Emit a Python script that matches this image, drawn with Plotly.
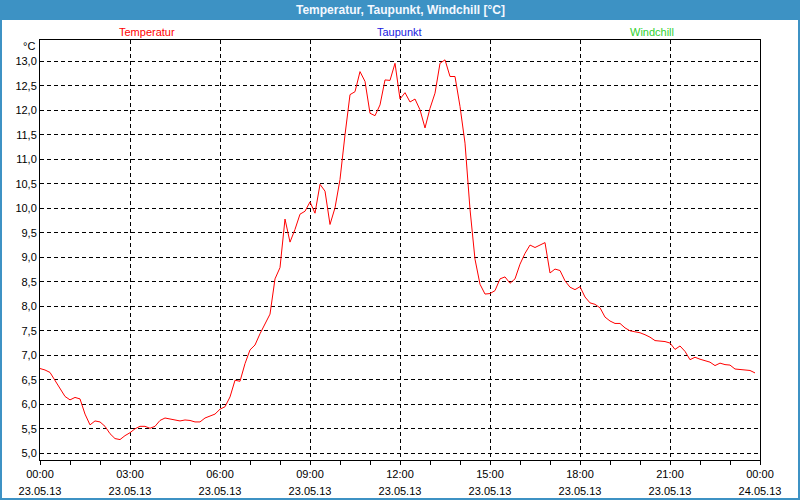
import pandas as pd
import plotly.graph_objects as go

# Temperature readings every 10 minutes, 23.05.13 00:00 - 23:50
temperatur = [
    6.73, 6.70, 6.65, 6.48, 6.32, 6.16, 6.09, 6.14, 6.11, 5.80, 5.58, 5.66,
    5.64, 5.55, 5.40, 5.30, 5.28, 5.36, 5.42, 5.50, 5.55, 5.55, 5.51, 5.55,
    5.67, 5.72, 5.70, 5.68, 5.66, 5.68, 5.67, 5.64, 5.64, 5.72, 5.76, 5.80,
    5.90, 5.95, 6.15, 6.49, 6.47, 6.83, 7.11, 7.21, 7.44, 7.64, 7.84, 8.56,
    8.79, 9.78, 9.31, 9.57, 9.88, 9.94, 10.13, 9.90, 10.49, 10.35, 9.67, 10.01,
    10.59, 11.50, 12.32, 12.38, 12.79, 12.59, 11.94, 11.89, 12.11, 12.62, 12.61, 12.96,
    12.23, 12.36, 12.17, 12.23, 12.01, 11.64, 12.04, 12.35, 12.96, 13.03, 12.69, 12.69,
    12.08, 11.33, 9.98, 8.96, 8.45, 8.25, 8.26, 8.32, 8.56, 8.60, 8.47, 8.56,
    8.86, 9.08, 9.25, 9.20, 9.25, 9.30, 8.68, 8.76, 8.73, 8.52, 8.39, 8.34,
    8.40, 8.19, 8.07, 8.04, 7.97, 7.78, 7.70, 7.65, 7.65, 7.56, 7.50, 7.48,
    7.46, 7.42, 7.37, 7.30, 7.29, 7.28, 7.25, 7.12, 7.19, 7.08, 6.91, 6.96,
    6.92, 6.89, 6.86, 6.79, 6.84, 6.81, 6.80, 6.72, 6.71, 6.71, 6.69, 6.64,
]
zeiten = pd.date_range("2013-05-23 00:00", periods=len(temperatur), freq="10min")

legend_labels = ["Temperatur", "Taupunkt", "Windchill"]
legend_colors = ["#ff0000", "#2020e0", "#30d030"]
title_text = "Temperatur, Taupunkt, Windchill [°C]"
x_start, x_end = "2013-05-23 00:00", "2013-05-24 00:00"

W, H = 800, 500
L, R, T, B = 40, 40, 40, 40
PW, PH = W - L - R, H - T - B


def px(x):
    return (x - L) / PW


def py(y):
    return (H - B - y) / PH


fig = go.Figure()
fig.add_trace(go.Scatter(x=zeiten, y=temperatur, mode="lines",
                         line=dict(color="#ff0000", width=1), showlegend=False,
                         hoverinfo="skip"))
# invisible companion trace so the date-label axis is drawn
fig.add_trace(go.Scatter(x=zeiten, y=temperatur, mode="lines", xaxis="x2",
                         line=dict(color="rgba(0,0,0,0)", width=0),
                         showlegend=False, hoverinfo="skip"))

font = "Liberation Sans, Arial, sans-serif"
tick_font = dict(family=font, size=11, color="#000000")

fig.update_layout(
    width=W, height=H,
    autosize=False,
    margin=dict(l=L, r=R, t=T, b=B, pad=0, autoexpand=False),
    paper_bgcolor="#ffffff",
    plot_bgcolor="#ffffff",
    separators=",.",
    font=dict(family=font, size=11, color="#000000"),
    xaxis=dict(
        range=[x_start, x_end],
        type="date",
        automargin=False,
        tick0=x_start,
        dtick=3 * 3600 * 1000,
        tickformat="%H:%M",
        ticks="outside", ticklen=4, tickcolor="#000000",
        showgrid=True, gridcolor="#000000", gridwidth=1, griddash="4px,3px",
        showline=True, linecolor="#000000", linewidth=1, mirror=True,
        minor=dict(dtick=3600 * 1000, ticks="outside", ticklen=4,
                   tickcolor="#000000", showgrid=False),
        zeroline=False,
        tickfont=tick_font,
    ),
    xaxis2=dict(
        range=[x_start, x_end],
        type="date",
        overlaying="x", anchor="y", side="bottom",
        automargin=False,
        tick0=x_start,
        dtick=3 * 3600 * 1000,
        tickformat="%d.%m.%y",
        ticks="outside", ticklen=4, tickcolor="rgba(0,0,0,0)",
        ticklabelstandoff=17,
        showgrid=False, showline=False, zeroline=False,
        tickfont=tick_font,
    ),
    yaxis=dict(
        range=[4.863, 13.435],
        automargin=False,
        tick0=5.0, dtick=0.5,
        tickformat=".1f",
        ticks="", showgrid=True, gridcolor="#000000", gridwidth=1,
        griddash="4px,3px",
        showline=True, linecolor="#000000", linewidth=1, mirror=True,
        zeroline=False,
        tickfont=tick_font,
    ),
)

# Title bar
fig.add_shape(type="rect", xref="paper", yref="paper",
              x0=px(0), x1=px(800), y0=py(20), y1=py(0),
              fillcolor="#3d92c4", line=dict(width=0), layer="above")
# Outer frame
fig.add_shape(type="rect", xref="paper", yref="paper",
              x0=px(1), x1=px(799), y0=py(499), y1=py(1),
              fillcolor="rgba(0,0,0,0)", line=dict(color="#3d92c4", width=2),
              layer="above")

fig.add_annotation(text="<b>" + title_text + "</b>", xref="paper", yref="paper",
                   x=px(400), y=py(10), showarrow=False,
                   font=dict(family=font, size=12, color="#f4f8ff"),
                   xanchor="center", yanchor="middle")

legend_x = [147, 399, 652]
for lab, col, lx in zip(legend_labels, legend_colors, legend_x):
    fig.add_annotation(text=lab, xref="paper", yref="paper",
                       x=px(lx), y=py(32), showarrow=False,
                       font=dict(family=font, size=11, color=col),
                       xanchor="center", yanchor="middle")

fig.add_annotation(text="°C", xref="paper", yref="paper",
                   x=px(37), y=py(46), showarrow=False,
                   font=dict(family=font, size=11, color="#000000"),
                   xanchor="right", yanchor="middle")

fig.write_html("out.html",
               config={"displayModeBar": False},
               post_script="document.body.style.margin='0';")
